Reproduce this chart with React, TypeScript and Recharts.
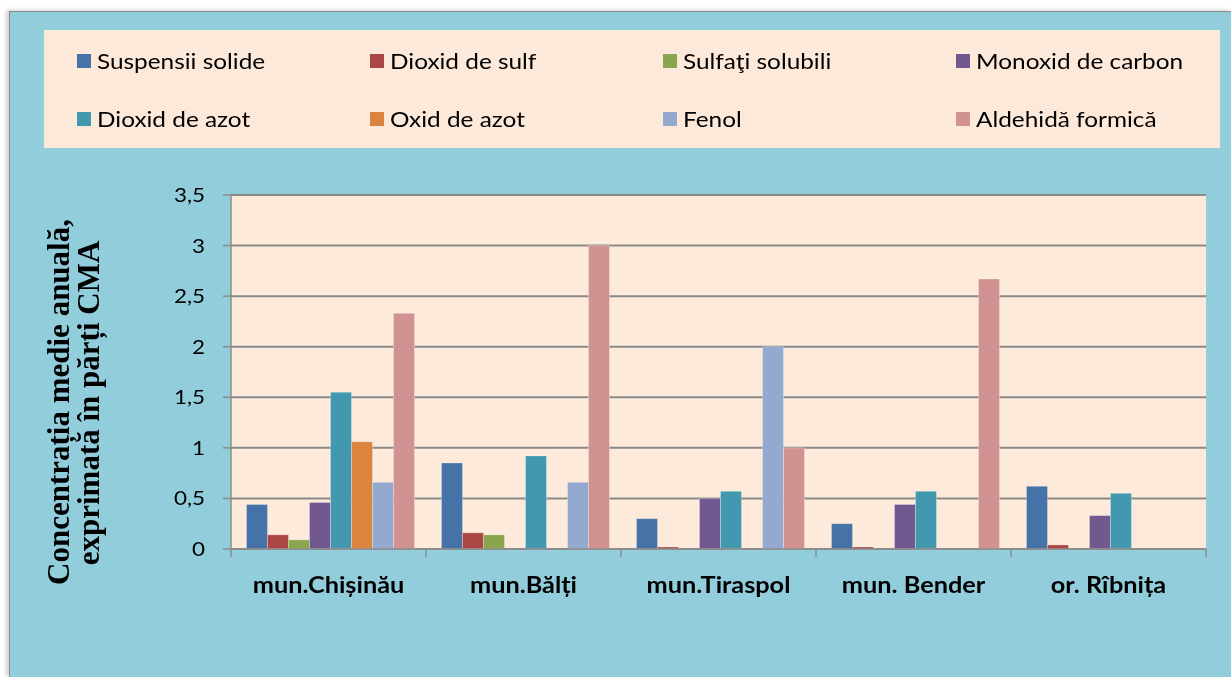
import React from "react";
import { BarChart, Bar, XAxis, YAxis, CartesianGrid } from "recharts";

const categories = ["mun.Chișinău", "mun.Bălți", "mun.Tiraspol", "mun. Bender", "or. Rîbnița"];
const suspensiiSolide = [0.44, 0.85, 0.3, 0.25, 0.62];
const dioxidDeSulf = [0.14, 0.16, 0.02, 0.02, 0.04];
const sulfatiSolubili = [0.09, 0.14, 0, 0, 0];
const monoxidDeCarbon = [0.46, 0, 0.5, 0.44, 0.33];
const dioxidDeAzot = [1.55, 0.92, 0.57, 0.57, 0.55];
const oxidDeAzot = [1.06, 0, 0, 0, 0];
const fenol = [0.66, 0.66, 2.0, 0, 0];
const aldehidaFormica = [2.33, 3.0, 1.0, 2.67, 0];
const yTicks = [0, 0.5, 1, 1.5, 2, 2.5, 3, 3.5];

const seriesNames = [
  "Suspensii solide",
  "Dioxid de sulf",
  "Sulfaţi solubili",
  "Monoxid de carbon",
  "Dioxid de azot",
  "Oxid de azot",
  "Fenol",
  "Aldehidă formică",
];
const seriesValues = [
  suspensiiSolide,
  dioxidDeSulf,
  sulfatiSolubili,
  monoxidDeCarbon,
  dioxidDeAzot,
  oxidDeAzot,
  fenol,
  aldehidaFormica,
];
const colors = ["#4572A7", "#AA4643", "#89A54E", "#71588F", "#4198AF", "#DB843D", "#93A9CF", "#D19392"];

const data = categories.map((c, i) => {
  const row: any = { name: c };
  seriesValues.forEach((vals, s) => {
    row["s" + s] = vals[i];
  });
  return row;
});

const CHART_W = 1222;
const CHART_H = 600;
const M_TOP = 183;
const M_RIGHT = 26;
const Y_W = 221;
const PLOT_BOTTOM = 537;
const X_H = 50;
const PLOT_W = CHART_W - Y_W - M_RIGHT;
const BAND = PLOT_W / categories.length;

const sansFont = "Lato, 'Open Sans', sans-serif";
const axisGray = "#8C8C8C";

const XTick = (props: any) => {
  const { x, payload, index } = props;
  const lines = [
    <line key="l" x1={x - BAND / 2} x2={x - BAND / 2} y1={PLOT_BOTTOM} y2={PLOT_BOTTOM + 8} stroke={axisGray} strokeWidth={1.5} />,
  ];
  if (index === categories.length - 1) {
    lines.push(
      <line key="r" x1={x + BAND / 2} x2={x + BAND / 2} y1={PLOT_BOTTOM} y2={PLOT_BOTTOM + 8} stroke={axisGray} strokeWidth={1.5} />
    );
  }
  return (
    <g>
      {lines}
      <text
        x={0}
        y={0}
        transform={`translate(${x}, ${PLOT_BOTTOM + 44}) scale(1.15, 1)`}
        textAnchor="middle"
        fontFamily={sansFont}
        fontWeight="bold"
        fontSize={22}
        fill="#000"
      >
        {payload.value}
      </text>
    </g>
  );
};

const YTick = (props: any) => {
  const { x, y, payload } = props;
  return (
    <text
      x={0}
      y={0}
      dy={7}
      transform={`translate(${x}, ${y}) scale(1.15, 1)`}
      textAnchor="end"
      fontFamily={sansFont}
      fontSize={19.5}
      fill="#000"
    >
      {String(payload.value).replace(".", ",")}
    </text>
  );
};

const YLabel = () => (
  <g fontFamily="'Liberation Serif', 'Times New Roman', serif" fontWeight="bold" fontSize={31} fill="#000">
    <text x={59} y={390} textAnchor="middle" transform="rotate(-90, 59, 390)">
      Concentrația medie anuală,
    </text>
    <text x={89} y={391} textAnchor="middle" transform="rotate(-90, 89, 391)">
      exprimată în părți CMA
    </text>
  </g>
);

const Legend = () => (
  <div
    style={{
      position: "absolute",
      left: 34,
      top: 18,
      width: 1176,
      height: 118,
      background: "#FDE9D9",
    }}
  >
    {seriesNames.map((n, i) => {
      const col = i % 4;
      const row = Math.floor(i / 4);
      return (
        <div
          key={n}
          style={{
            position: "absolute",
            left: 33 + col * 293,
            top: 30.5 + row * 58 - 14,
            height: 28,
            display: "flex",
            alignItems: "center",
            fontFamily: sansFont,
            fontSize: 21,
            color: "#000",
            whiteSpace: "nowrap",
          }}
        >
          <span style={{ display: "inline-block", width: 14, height: 14, background: colors[i], marginRight: 6 }} />
          <span style={{ display: "inline-block", transform: "scaleX(1.16)", transformOrigin: "left center" }}>{n}</span>
        </div>
      );
    })}
  </div>
);

export default function App() {
  return (
    <div
      style={{
        position: "fixed",
        left: 9,
        top: 11,
        right: 0,
        bottom: 0,
        background: "#92CDDC",
        borderLeft: "1.5px solid #8a8a8a",
        borderTop: "1.5px solid #8a8a8a",
        boxShadow: "-3px -1px 4px rgba(0,0,0,0.18)",
        overflow: "hidden",
      }}
    >
      <div style={{ position: "absolute", left: 0, top: 0 }}>
        <BarChart
          width={CHART_W}
          height={CHART_H}
          data={data}
          margin={{ top: M_TOP, right: M_RIGHT, left: 0, bottom: CHART_H - PLOT_BOTTOM - X_H }}
          barCategoryGap={15.5}
          barGap={0}
        >
          <CartesianGrid vertical={false} stroke="#8A8A8A" strokeWidth={2} fill="#FDEADA" fillOpacity={1} />
          <XAxis
            dataKey="name"
            height={X_H}
            axisLine={{ stroke: axisGray, strokeWidth: 1.5 }}
            tickLine={false}
            tick={<XTick />}
            interval={0}
          />
          <YAxis
            width={Y_W}
            domain={[0, 3.5]}
            ticks={yTicks}
            interval={0}
            axisLine={{ stroke: axisGray, strokeWidth: 1.5 }}
            tickLine={{ stroke: axisGray, strokeWidth: 1.5 }}
            tickSize={8}
            tickMargin={18}
            tick={<YTick />}
          />
          {seriesNames.map((n, i) => (
            <Bar
              key={n}
              dataKey={"s" + i}
              name={n}
              fill={colors[i]}
              stroke="rgba(255,255,255,0.35)"
              strokeWidth={0.8}
              isAnimationActive={false}
            />
          ))}
        </BarChart>
        <svg width={140} height={CHART_H} style={{ position: "absolute", left: 0, top: 0 }}>
          <YLabel />
        </svg>
      </div>
      <Legend />
    </div>
  );
}
